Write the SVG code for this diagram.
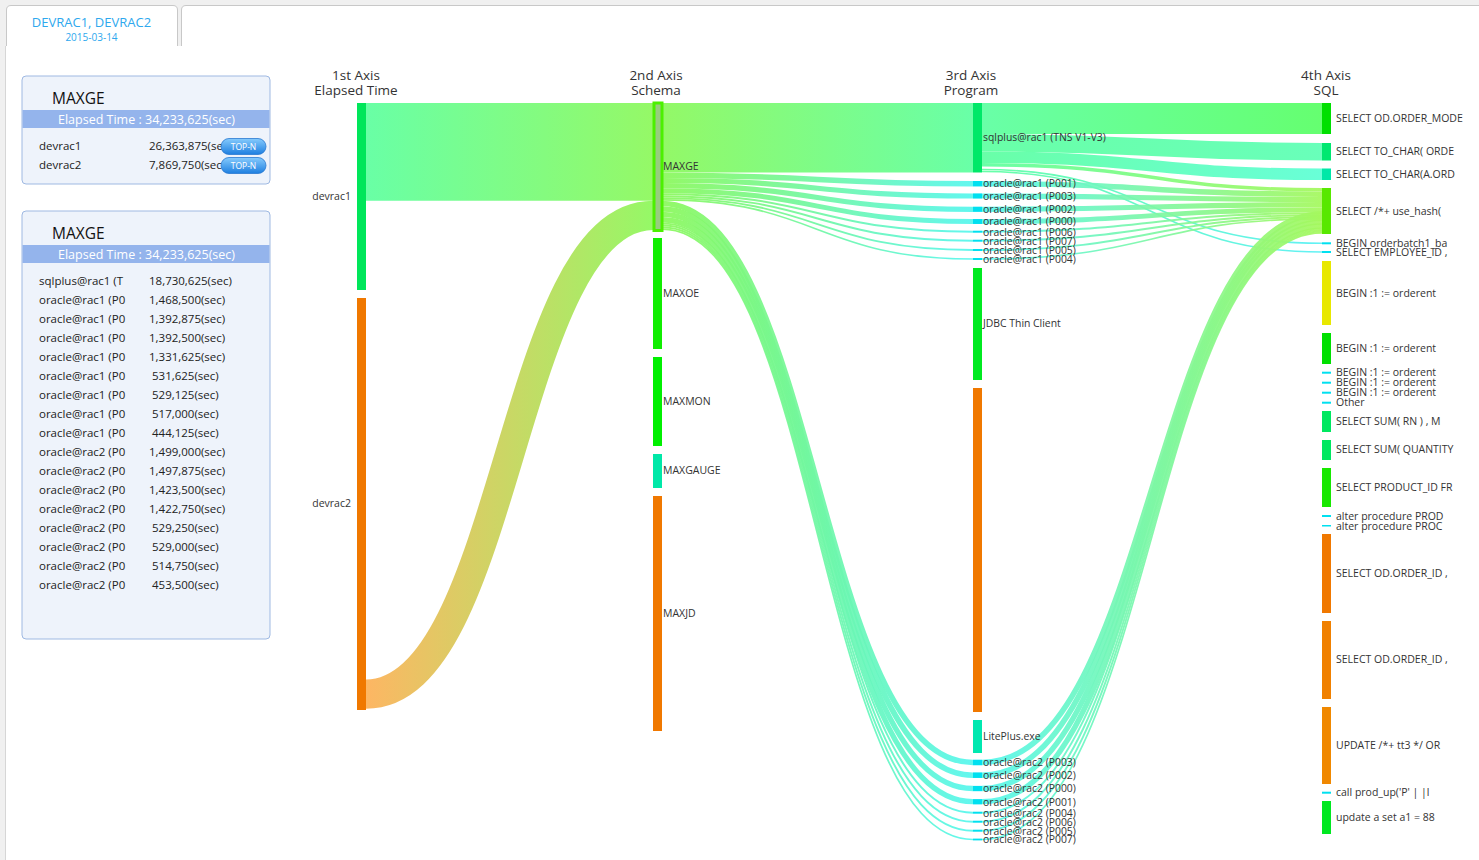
<svg xmlns="http://www.w3.org/2000/svg" width="1479" height="860" viewBox="0 0 1479 860">
<defs>
<style>
text { font-family: "Open Sans", "Noto Sans", "DejaVu Sans", sans-serif; }
.axt { font-size: 13.5px; fill: #333; text-anchor: middle; }
.lbl { font-size: 10.5px; fill: #333; }
.lbl3 { font-size: 10.4px; fill: #333; }
.ptitle { font-size: 15.5px; fill: #111; }
.pbar { fill: #94b4ec; }
.pbart { font-size: 12.5px; fill: #fff; text-anchor: middle; }
.ptxt { font-size: 11.5px; fill: #222; }
.panel { fill: #eef3fb; stroke: #9fb9e2; stroke-width: 1; }
.btn { fill: url(#gBtn); stroke: #2a78d0; stroke-width: 0.8; }
.btnt { font-size: 8.5px; fill: #fff; text-anchor: middle; }
.lk { fill: none; stroke-opacity: 0.92; }
.cyan { fill: #00e0f0; }
.orange { fill: #f07800; }
</style>
<linearGradient id="gBtn" x1="0" y1="0" x2="0" y2="1">
<stop offset="0" stop-color="#86cbfd"/>
<stop offset="1" stop-color="#1e7fe0"/>
</linearGradient>
<linearGradient id="gA" gradientUnits="userSpaceOnUse" x1="366" y1="0" x2="653" y2="0">
<stop offset="0" stop-color="#5cff9e"/><stop offset="1" stop-color="#8cf85a"/>
</linearGradient>
<linearGradient id="gB" gradientUnits="userSpaceOnUse" x1="366" y1="0" x2="653" y2="0">
<stop offset="0" stop-color="#fdb056"/><stop offset="1" stop-color="#8cf85a"/>
</linearGradient>
<linearGradient id="gC" gradientUnits="userSpaceOnUse" x1="662" y1="0" x2="973" y2="0">
<stop offset="0" stop-color="#8af85a"/><stop offset="1" stop-color="#5cffa0"/>
</linearGradient>
<linearGradient id="gD" gradientUnits="userSpaceOnUse" x1="662" y1="0" x2="973" y2="0">
<stop offset="0" stop-color="#8af85a"/><stop offset="1" stop-color="#55f6ee"/>
</linearGradient>
<linearGradient id="gE" gradientUnits="userSpaceOnUse" x1="982" y1="0" x2="1322" y2="0">
<stop offset="0" stop-color="#5cffa0"/><stop offset="1" stop-color="#58ff64"/>
</linearGradient>
<linearGradient id="gF" gradientUnits="userSpaceOnUse" x1="982" y1="0" x2="1322" y2="0">
<stop offset="0" stop-color="#5cffa0"/><stop offset="1" stop-color="#5cffb4"/>
</linearGradient>
<linearGradient id="gG" gradientUnits="userSpaceOnUse" x1="982" y1="0" x2="1322" y2="0">
<stop offset="0" stop-color="#5cffa0"/><stop offset="1" stop-color="#5cffd4"/>
</linearGradient>
<linearGradient id="gH" gradientUnits="userSpaceOnUse" x1="982" y1="0" x2="1322" y2="0">
<stop offset="0" stop-color="#5cffa0"/><stop offset="1" stop-color="#a4f85c"/>
</linearGradient>
<linearGradient id="gI" gradientUnits="userSpaceOnUse" x1="982" y1="0" x2="1322" y2="0">
<stop offset="0" stop-color="#5cffa0"/><stop offset="1" stop-color="#55f0f4"/>
</linearGradient>
<linearGradient id="gJ" gradientUnits="userSpaceOnUse" x1="982" y1="0" x2="1322" y2="0">
<stop offset="0" stop-color="#55f6ee"/><stop offset="1" stop-color="#a4f85c"/>
</linearGradient>
</defs>

<!-- page frame -->
<rect x="0" y="0" width="1479" height="860" fill="#f0f0f0"/>
<rect x="5" y="46" width="1474" height="814" fill="#ffffff"/>
<line x1="5.5" y1="46" x2="5.5" y2="860" stroke="#d6d6d6"/>
<g id="tab1">
<path d="M6.5,46 L6.5,10 Q6.5,5.5 11,5.5 L173,5.5 Q177.5,5.5 177.5,10 L177.5,46" fill="#ffffff" stroke="#c8c8c8"/>
<text x="91.5" y="27" style="font-size:13px;fill:#2ea8ee;text-anchor:middle">DEVRAC1, DEVRAC2</text>
<text x="91.5" y="41" style="font-size:10px;fill:#2ea8ee;text-anchor:middle">2015-03-14</text>
</g>
<g id="tab2">
<path d="M181.5,46 L181.5,10 Q181.5,5.5 186,5.5 L1479,5.5 L1479,46 Z" fill="#ffffff" stroke="none"/>
<path d="M181.5,46 L181.5,10 Q181.5,5.5 186,5.5 L1479,5.5" fill="none" stroke="#c8c8c8"/>
</g>

<!-- panel 1 -->
<g id="panel-summary">
<rect class="panel" x="22" y="76" width="248" height="108" rx="4"/>
<text class="ptitle" x="52" y="104">MAXGE</text>
<rect class="pbar" x="22.5" y="110" width="247" height="18"/>
<text class="pbart" x="146.5" y="123.5">Elapsed Time : 34,233,625(sec)</text>
<text class="ptxt" x="39" y="150">devrac1</text>
<text class="ptxt" x="149" y="150">26,363,875(se</text>
<text class="ptxt" x="39" y="169">devrac2</text>
<text class="ptxt" x="149" y="169">7,869,750(sec</text>
<g id="btn-devrac1">
<rect class="btn" x="221" y="138.5" width="45" height="16" rx="8"/>
<text class="btnt" x="243.5" y="149.5">TOP-N</text>
</g>
<g id="btn-devrac2">
<rect class="btn" x="221" y="157.5" width="45" height="16" rx="8"/>
<text class="btnt" x="243.5" y="168.5">TOP-N</text>
</g>
</g>

<!-- panel 2 -->
<g id="panel-programs">
<rect class="panel" x="22" y="211" width="248" height="428" rx="4"/>
<text class="ptitle" x="52" y="239">MAXGE</text>
<rect class="pbar" x="22.5" y="245" width="247" height="18"/>
<text class="pbart" x="146.5" y="258.5">Elapsed Time : 34,233,625(sec)</text>
<text class="ptxt" x="39" y="285">sqlplus@rac1 (T</text><text class="ptxt" x="149" y="285">18,730,625(sec)</text>
<text class="ptxt" x="39" y="304">oracle@rac1 (P0</text><text class="ptxt" x="149" y="304">1,468,500(sec)</text>
<text class="ptxt" x="39" y="323">oracle@rac1 (P0</text><text class="ptxt" x="149" y="323">1,392,875(sec)</text>
<text class="ptxt" x="39" y="342">oracle@rac1 (P0</text><text class="ptxt" x="149" y="342">1,392,500(sec)</text>
<text class="ptxt" x="39" y="361">oracle@rac1 (P0</text><text class="ptxt" x="149" y="361">1,331,625(sec)</text>
<text class="ptxt" x="39" y="380">oracle@rac1 (P0</text><text class="ptxt" x="152" y="380">531,625(sec)</text>
<text class="ptxt" x="39" y="399">oracle@rac1 (P0</text><text class="ptxt" x="152" y="399">529,125(sec)</text>
<text class="ptxt" x="39" y="418">oracle@rac1 (P0</text><text class="ptxt" x="152" y="418">517,000(sec)</text>
<text class="ptxt" x="39" y="437">oracle@rac1 (P0</text><text class="ptxt" x="152" y="437">444,125(sec)</text>
<text class="ptxt" x="39" y="456">oracle@rac2 (P0</text><text class="ptxt" x="149" y="456">1,499,000(sec)</text>
<text class="ptxt" x="39" y="475">oracle@rac2 (P0</text><text class="ptxt" x="149" y="475">1,497,875(sec)</text>
<text class="ptxt" x="39" y="494">oracle@rac2 (P0</text><text class="ptxt" x="149" y="494">1,423,500(sec)</text>
<text class="ptxt" x="39" y="513">oracle@rac2 (P0</text><text class="ptxt" x="149" y="513">1,422,750(sec)</text>
<text class="ptxt" x="39" y="532">oracle@rac2 (P0</text><text class="ptxt" x="152" y="532">529,250(sec)</text>
<text class="ptxt" x="39" y="551">oracle@rac2 (P0</text><text class="ptxt" x="152" y="551">529,000(sec)</text>
<text class="ptxt" x="39" y="570">oracle@rac2 (P0</text><text class="ptxt" x="152" y="570">514,750(sec)</text>
<text class="ptxt" x="39" y="589">oracle@rac2 (P0</text><text class="ptxt" x="152" y="589">453,500(sec)</text>
</g>

<!-- axis titles -->
<g id="axis-titles">
<text class="axt" x="356" y="80">1st Axis</text><text class="axt" x="356" y="95">Elapsed Time</text>
<text class="axt" x="656" y="80">2nd Axis</text><text class="axt" x="656" y="95">Schema</text>
<text class="axt" x="971" y="80">3rd Axis</text><text class="axt" x="971" y="95">Program</text>
<text class="axt" x="1326" y="80">4th Axis</text><text class="axt" x="1326" y="95">SQL</text>
</g>

<!-- connectors -->
<g id="links">
<path class="lk" stroke="url(#gA)" stroke-width="97.8" d="M366,151.9 L653,151.9"/>
<path class="lk" stroke="url(#gB)" stroke-width="29.2" d="M366,694.1 C509.5,694.1 509.5,215.4 653,215.4"/>

<path class="lk" stroke="url(#gC)" stroke-width="69.5" d="M662,137.75 L973,137.75"/>
<path class="lk" stroke="url(#gD)" stroke-width="5.45" d="M662,175.2 C817.5,175.2 817.5,183.7 973,183.7"/>
<path class="lk" stroke="url(#gD)" stroke-width="5.17" d="M662,180.5 C817.5,180.5 817.5,196 973,196"/>
<path class="lk" stroke="url(#gD)" stroke-width="5.17" d="M662,185.7 C817.5,185.7 817.5,209.3 973,209.3"/>
<path class="lk" stroke="url(#gD)" stroke-width="4.94" d="M662,190.75 C817.5,190.75 817.5,221.5 973,221.5"/>
<path class="lk" stroke="url(#gD)" stroke-width="1.97" d="M662,194.2 C817.5,194.2 817.5,231.7 973,231.7"/>
<path class="lk" stroke="url(#gD)" stroke-width="1.96" d="M662,196.17 C817.5,196.17 817.5,240.7 973,240.7"/>
<path class="lk" stroke="url(#gD)" stroke-width="1.92" d="M662,198.11 C817.5,198.11 817.5,250 973,250"/>
<path class="lk" stroke="url(#gD)" stroke-width="1.65" d="M662,199.9 C817.5,199.9 817.5,259 973,259"/>
<path class="lk" stroke="url(#gD)" stroke-width="5.56" d="M662,203.5 C817.5,203.5 817.5,762.5 973,762.5"/>
<path class="lk" stroke="url(#gD)" stroke-width="5.56" d="M662,209.06 C817.5,209.06 817.5,775.2 973,775.2"/>
<path class="lk" stroke="url(#gD)" stroke-width="5.28" d="M662,214.48 C817.5,214.48 817.5,788.5 973,788.5"/>
<path class="lk" stroke="url(#gD)" stroke-width="5.28" d="M662,219.76 C817.5,219.76 817.5,801.7 973,801.7"/>
<path class="lk" stroke="url(#gD)" stroke-width="1.96" d="M662,223.38 C817.5,223.38 817.5,812.7 973,812.7"/>
<path class="lk" stroke="url(#gD)" stroke-width="1.96" d="M662,225.34 C817.5,225.34 817.5,821.7 973,821.7"/>
<path class="lk" stroke="url(#gD)" stroke-width="1.91" d="M662,227.28 C817.5,227.28 817.5,830.7 973,830.7"/>
<path class="lk" stroke="url(#gD)" stroke-width="1.68" d="M662,229.07 C817.5,229.07 817.5,839.5 973,839.5"/>

<path class="lk" stroke="url(#gE)" stroke-width="31" d="M982,118.5 L1322,118.5"/>
<path class="lk" stroke="url(#gF)" stroke-width="17.5" d="M982,142.75 C1152,142.75 1152,151.75 1322,151.75"/>
<path class="lk" stroke="url(#gG)" stroke-width="11.5" d="M982,157.25 C1152,157.25 1152,174.25 1322,174.25"/>
<path class="lk" stroke="url(#gH)" stroke-width="3.5" d="M982,164.75 C1152,164.75 1152,189.75 1322,189.75"/>
<path class="lk" stroke="url(#gI)" stroke-width="1.6" d="M982,169.5 C1152,169.5 1152,243.3 1322,243.3"/>
<path class="lk" stroke="url(#gI)" stroke-width="1.6" d="M982,171.5 C1152,171.5 1152,252 1322,252"/>

<path class="lk" stroke="url(#gJ)" stroke-width="5.45" d="M982,183.7 C1152,183.7 1152,194.2 1322,194.2"/>
<path class="lk" stroke="url(#gJ)" stroke-width="5.17" d="M982,196 C1152,196 1152,199.5 1322,199.5"/>
<path class="lk" stroke="url(#gJ)" stroke-width="5.17" d="M982,209.3 C1152,209.3 1152,204.7 1322,204.7"/>
<path class="lk" stroke="url(#gJ)" stroke-width="4.94" d="M982,221.5 C1152,221.5 1152,209.76 1322,209.76"/>
<path class="lk" stroke="url(#gJ)" stroke-width="1.97" d="M982,231.7 C1152,231.7 1152,213.2 1322,213.2"/>
<path class="lk" stroke="url(#gJ)" stroke-width="1.96" d="M982,240.7 C1152,240.7 1152,215.2 1322,215.2"/>
<path class="lk" stroke="url(#gJ)" stroke-width="1.92" d="M982,250 C1152,250 1152,217.1 1322,217.1"/>
<path class="lk" stroke="url(#gJ)" stroke-width="1.65" d="M982,259 C1152,259 1152,218.9 1322,218.9"/>

<path class="lk" stroke="url(#gJ)" stroke-width="5.56" d="M982,762.5 C1152,762.5 1152,214 1322,214"/>
<path class="lk" stroke="url(#gJ)" stroke-width="5.56" d="M982,775.2 C1152,775.2 1152,218.1 1322,218.1"/>
<path class="lk" stroke="url(#gJ)" stroke-width="5.28" d="M982,788.5 C1152,788.5 1152,222.1 1322,222.1"/>
<path class="lk" stroke="url(#gJ)" stroke-width="5.28" d="M982,801.7 C1152,801.7 1152,226 1322,226"/>
<path class="lk" stroke="url(#gJ)" stroke-width="1.96" d="M982,812.7 C1152,812.7 1152,228.6 1322,228.6"/>
<path class="lk" stroke="url(#gJ)" stroke-width="1.96" d="M982,821.7 C1152,821.7 1152,230 1322,230"/>
<path class="lk" stroke="url(#gJ)" stroke-width="1.91" d="M982,830.7 C1152,830.7 1152,231.5 1322,231.5"/>
<path class="lk" stroke="url(#gJ)" stroke-width="1.68" d="M982,839.5 C1152,839.5 1152,232.8 1322,232.8"/>
</g>

<!-- axis 1 nodes -->
<g id="n-devrac1"><rect x="357" y="103" width="9" height="187" fill="#00e65a"/><text class="lbl" x="351" y="200" text-anchor="end">devrac1</text></g>
<g id="n-devrac2"><rect class="orange" x="357" y="298" width="9" height="412"/><text class="lbl" x="351" y="507" text-anchor="end">devrac2</text></g>

<!-- axis 2 nodes -->
<g id="n-maxge"><rect x="652.5" y="101.5" width="11" height="130.5" fill="#4cf000"/><rect x="655.5" y="104.5" width="5" height="124.5" fill="#98cc80"/><text class="lbl" x="663" y="170">MAXGE</text></g>
<g id="n-maxoe"><rect x="653" y="238" width="9" height="111" fill="#10ee00"/><text class="lbl" x="663" y="297">MAXOE</text></g>
<g id="n-maxmon"><rect x="653" y="357" width="9" height="89" fill="#00f000"/><text class="lbl" x="663" y="405">MAXMON</text></g>
<g id="n-maxgauge"><rect x="653" y="454" width="9" height="34" fill="#00e8a8"/><text class="lbl" x="663" y="474">MAXGAUGE</text></g>
<g id="n-maxjd"><rect class="orange" x="653" y="496" width="9" height="235"/><text class="lbl" x="663" y="617">MAXJD</text></g>

<!-- axis 3 nodes -->
<g id="n-sqlplus"><rect x="973" y="103" width="9" height="69.5" fill="#00e868"/><text class="lbl3" x="983" y="141">sqlplus@rac1 (TNS V1-V3)</text></g>
<g id="n-rac1-p001"><rect class="cyan" x="973" y="181" width="9" height="5.45"/><text class="lbl3" x="983" y="186.6">oracle@rac1 (P001)</text></g>
<g id="n-rac1-p003"><rect class="cyan" x="973" y="193.4" width="9" height="5.17"/><text class="lbl3" x="983" y="199.6">oracle@rac1 (P003)</text></g>
<g id="n-rac1-p002"><rect class="cyan" x="973" y="206.7" width="9" height="5.17"/><text class="lbl3" x="983" y="212.6">oracle@rac1 (P002)</text></g>
<g id="n-rac1-p000"><rect class="cyan" x="973" y="219.03" width="9" height="4.94"/><text class="lbl3" x="983" y="225.1">oracle@rac1 (P000)</text></g>
<g id="n-rac1-p006"><rect class="cyan" x="973" y="230.7" width="9" height="2"/><text class="lbl3" x="983" y="235.6">oracle@rac1 (P006)</text></g>
<g id="n-rac1-p007"><rect class="cyan" x="973" y="239.7" width="9" height="2"/><text class="lbl3" x="983" y="244.6">oracle@rac1 (P007)</text></g>
<g id="n-rac1-p005"><rect class="cyan" x="973" y="249" width="9" height="2"/><text class="lbl3" x="983" y="253.6">oracle@rac1 (P005)</text></g>
<g id="n-rac1-p004"><rect class="cyan" x="973" y="258" width="9" height="2"/><text class="lbl3" x="983" y="262.6">oracle@rac1 (P004)</text></g>
<g id="n-jdbc"><rect x="973" y="268" width="9" height="112" fill="#00ea20"/><text class="lbl3" x="983" y="327">JDBC Thin Client</text></g>
<g id="n-prog-orange"><rect class="orange" x="973" y="388" width="9" height="324"/></g>
<g id="n-liteplus"><rect x="973" y="720" width="9" height="33" fill="#00e8b0"/><text class="lbl3" x="983" y="740">LitePlus.exe</text></g>
<g id="n-rac2-p003"><rect class="cyan" x="973" y="759.7" width="9" height="5.56"/><text class="lbl3" x="983" y="765.8">oracle@rac2 (P003)</text></g>
<g id="n-rac2-p002"><rect class="cyan" x="973" y="772.4" width="9" height="5.56"/><text class="lbl3" x="983" y="779">oracle@rac2 (P002)</text></g>
<g id="n-rac2-p000"><rect class="cyan" x="973" y="785.9" width="9" height="5.28"/><text class="lbl3" x="983" y="792.4">oracle@rac2 (P000)</text></g>
<g id="n-rac2-p001"><rect class="cyan" x="973" y="799.1" width="9" height="5.28"/><text class="lbl3" x="983" y="805.6">oracle@rac2 (P001)</text></g>
<g id="n-rac2-p004"><rect class="cyan" x="973" y="811.7" width="9" height="2"/><text class="lbl3" x="983" y="816.6">oracle@rac2 (P004)</text></g>
<g id="n-rac2-p006"><rect class="cyan" x="973" y="820.7" width="9" height="2"/><text class="lbl3" x="983" y="825.6">oracle@rac2 (P006)</text></g>
<g id="n-rac2-p005"><rect class="cyan" x="973" y="829.7" width="9" height="2"/><text class="lbl3" x="983" y="834.6">oracle@rac2 (P005)</text></g>
<g id="n-rac2-p007"><rect class="cyan" x="973" y="838.6" width="9" height="1.8"/><text class="lbl3" x="983" y="843.4">oracle@rac2 (P007)</text></g>

<!-- axis 4 nodes -->
<g id="n-sql-order-mode"><rect x="1322" y="103" width="9" height="31" fill="#00e000"/><text class="lbl" x="1336" y="122">SELECT OD.ORDER_MODE</text></g>
<g id="n-sql-tochar1"><rect x="1322" y="143" width="9" height="17.5" fill="#00e870"/><text class="lbl" x="1336" y="155">SELECT TO_CHAR( ORDE</text></g>
<g id="n-sql-tochar2"><rect x="1322" y="168.5" width="9" height="11.5" fill="#00e8a8"/><text class="lbl" x="1336" y="178">SELECT TO_CHAR(A.ORD</text></g>
<g id="n-sql-usehash"><rect x="1322" y="188" width="9" height="46" fill="#58e800"/><text class="lbl" x="1336" y="215">SELECT /*+ use_hash(</text></g>
<g id="n-sql-orderbatch"><rect class="cyan" x="1322" y="242.3" width="9" height="2"/><text class="lbl" x="1336" y="246.5">BEGIN orderbatch1_ba</text></g>
<g id="n-sql-employee"><rect class="cyan" x="1322" y="251" width="9" height="2"/><text class="lbl" x="1336" y="255.5">SELECT EMPLOYEE_ID ,</text></g>
<g id="n-sql-begin1"><rect x="1322" y="261" width="9" height="64" fill="#e8e800"/><text class="lbl" x="1336" y="296.5">BEGIN :1 := orderent</text></g>
<g id="n-sql-begin2"><rect x="1322" y="333" width="9" height="31" fill="#00e000"/><text class="lbl" x="1336" y="352">BEGIN :1 := orderent</text></g>
<g id="n-sql-begin3"><rect class="cyan" x="1322" y="371.7" width="9" height="2"/><text class="lbl" x="1336" y="375.5">BEGIN :1 := orderent</text></g>
<g id="n-sql-begin4"><rect class="cyan" x="1322" y="381.7" width="9" height="2"/><text class="lbl" x="1336" y="386">BEGIN :1 := orderent</text></g>
<g id="n-sql-begin5"><rect class="cyan" x="1322" y="391.7" width="9" height="2"/><text class="lbl" x="1336" y="396">BEGIN :1 := orderent</text></g>
<g id="n-sql-other"><rect class="cyan" x="1322" y="401.7" width="9" height="2"/><text class="lbl" x="1336" y="406">Other</text></g>
<g id="n-sql-sum-rn"><rect x="1322" y="411" width="9" height="21" fill="#00e860"/><text class="lbl" x="1336" y="425">SELECT SUM( RN ) , M</text></g>
<g id="n-sql-sum-qty"><rect x="1322" y="440" width="9" height="20" fill="#00e860"/><text class="lbl" x="1336" y="453">SELECT SUM( QUANTITY</text></g>
<g id="n-sql-product"><rect x="1322" y="468" width="9" height="39" fill="#18e800"/><text class="lbl" x="1336" y="491">SELECT PRODUCT_ID FR</text></g>
<g id="n-sql-alter1"><rect class="cyan" x="1322" y="515" width="9" height="2"/><text class="lbl" x="1336" y="519.5">alter procedure PROD</text></g>
<g id="n-sql-alter2"><rect class="cyan" x="1322" y="525" width="9" height="1.5"/><text class="lbl" x="1336" y="529.5">alter procedure PROC</text></g>
<g id="n-sql-orderid1"><rect x="1322" y="534" width="9" height="79" fill="#f07800"/><text class="lbl" x="1336" y="577">SELECT OD.ORDER_ID ,</text></g>
<g id="n-sql-orderid2"><rect x="1322" y="621" width="9" height="78" fill="#f08000"/><text class="lbl" x="1336" y="663">SELECT OD.ORDER_ID ,</text></g>
<g id="n-sql-update"><rect x="1322" y="707" width="9" height="77" fill="#f08800"/><text class="lbl" x="1336" y="749">UPDATE /*+ tt3 */ OR</text></g>
<g id="n-sql-call"><rect class="cyan" x="1322" y="791.7" width="9" height="2"/><text class="lbl" x="1336" y="796">call prod_up('P' | |l</text></g>
<g id="n-sql-update-a"><rect x="1322" y="801" width="9" height="33" fill="#00e820"/><text class="lbl" x="1336" y="821">update a set a1 = 88</text></g>
</svg>
